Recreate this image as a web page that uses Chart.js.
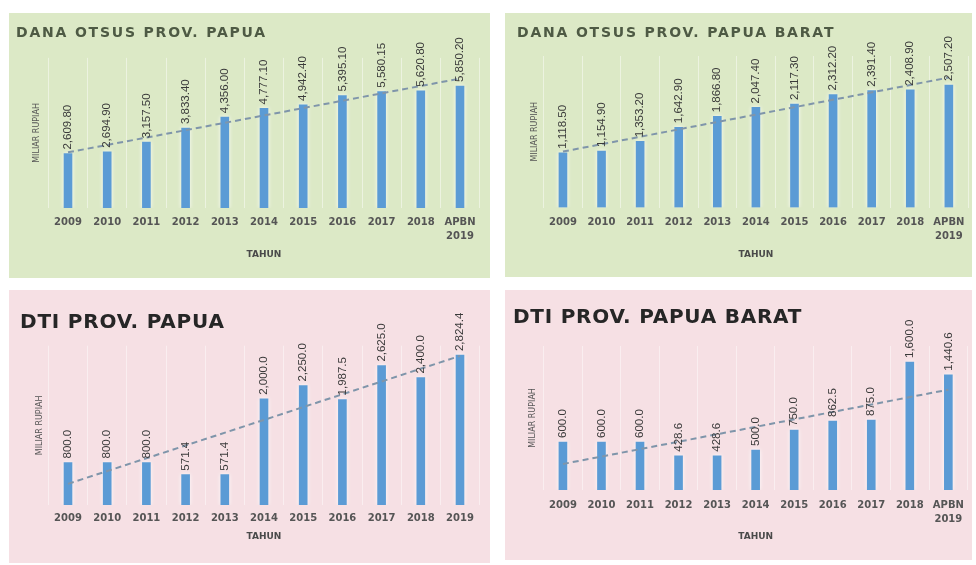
<!DOCTYPE html>
<html>
<head>
<meta charset="utf-8">
<script src="https://cdn.jsdelivr.net/npm/chart.js@4.4.1/dist/chart.umd.min.js"></script>
<style>
body { margin:0; background:#fff; width:976px; height:565px; overflow:hidden; position:relative; font-family:'DejaVu Sans', sans-serif; }
.panel { position:absolute; }
.panel canvas { position:absolute; left:0; top:0; }
.judul { position:absolute; font-weight:bold; white-space:nowrap; line-height:1; }
</style>
</head>
<body>
<div class="panel" style="left:9px;top:13px;width:481px;height:265px;background:#dce9c6">
  <canvas id="otsusPapua" width="481" height="265"></canvas>
  <div class="judul" style="left:7px;top:12px;font-size:14px;letter-spacing:1.8px;color:#4e5a44">DANA OTSUS PROV. PAPUA</div>
</div>
<div class="panel" style="left:505px;top:13px;width:467px;height:264px;background:#dce9c6">
  <canvas id="otsusPapuaBarat" width="467" height="264"></canvas>
  <div class="judul" style="left:12px;top:12px;font-size:14px;letter-spacing:1.8px;color:#4e5a44">DANA OTSUS PROV. PAPUA BARAT</div>
</div>
<div class="panel" style="left:9px;top:290px;width:481px;height:273px;background:#f6e0e4">
  <canvas id="dtiPapua" width="481" height="273"></canvas>
  <div class="judul" style="left:11px;top:21px;font-size:20px;letter-spacing:0.8px;color:#262626">DTI PROV. PAPUA</div>
</div>
<div class="panel" style="left:505px;top:290px;width:467px;height:270px;background:#f6e0e4">
  <canvas id="dtiPapuaBarat" width="467" height="270"></canvas>
  <div class="judul" style="left:8px;top:16px;font-size:20px;letter-spacing:0.75px;color:#262626">DTI PROV. PAPUA BARAT</div>
</div>
<script>
// tahun (sumbu x)
const tahunApbn = ['2009', '2010', '2011', '2012', '2013', '2014', '2015', '2016', '2017', '2018', ['APBN', '2019']];
const tahunDti = ['2009', '2010', '2011', '2012', '2013', '2014', '2015', '2016', '2017', '2018', '2019'];

// nilai (miliar rupiah)
const otsusPapua = [2609.80, 2694.90, 3157.50, 3833.40, 4356.00, 4777.10, 4942.40, 5395.10, 5580.15, 5620.80, 5850.20];
const otsusPapuaBarat = [1118.50, 1154.90, 1353.20, 1642.90, 1866.80, 2047.40, 2117.30, 2312.20, 2391.40, 2408.90, 2507.20];
const dtiPapua = [800.0, 800.0, 800.0, 571.4, 571.4, 2000.0, 2250.0, 1987.5, 2625.0, 2400.0, 2824.4];
const dtiPapuaBarat = [600.0, 600.0, 600.0, 428.6, 428.6, 500.0, 750.0, 862.5, 875.0, 1600.0, 1440.6];

// garis tren: nilai awal dan akhir
const trenOtsusPapua = [2670, 6205];
const trenOtsusPapuaBarat = [1144, 2659];
const trenDtiPapua = [398, 2808];
const trenDtiPapuaBarat = [325, 1254];

const warnaBar = '#5b9bd5';
const warnaTren = '#7f95aa';

// label nilai tegak di atas batang
const labelNilai = {
    id: 'labelNilai',
    beforeDatasetDraw(chart, args) {
        if (args.index === 1) {
            chart.ctx.save();
            chart.ctx.shadowColor = 'rgba(255,255,255,0.9)';
            chart.ctx.shadowBlur = 4;
        }
    },
    afterDatasetDraw(chart, args) {
        if (args.index === 1) chart.ctx.restore();
    },
    afterDatasetsDraw(chart, args, opts) {
        const ctx = chart.ctx;
        const meta = chart.getDatasetMeta(1);
        const data = chart.data.datasets[1].data;
        ctx.save();
        ctx.font = '11.5px "Liberation Sans", sans-serif';
        ctx.fillStyle = '#3a3a3a';
        ctx.textAlign = 'left';
        ctx.textBaseline = 'middle';
        meta.data.forEach((bar, i) => {
            const teks = data[i].toLocaleString('en-US', {minimumFractionDigits: opts.desimal, maximumFractionDigits: opts.desimal});
            ctx.save();
            ctx.translate(bar.x, bar.y - 4);
            ctx.rotate(-Math.PI / 2);
            ctx.fillText(teks, 0, 0);
            ctx.restore();
        });
        ctx.restore();
    }
};

function buatGrafik(id, labels, nilai, tren, desimal, g) {
    const canvas = document.getElementById(id);
    const W = canvas.width, H = canvas.height;
    const akhir = labels.length - 1;
    const dataTren = labels.map((l, i) => i === 0 ? tren[0] : (i === akhir ? tren[1] : null));
    const config = {
        data: {
            labels,
            datasets: [{
                type: 'line',
                label: 'Tren',
                data: dataTren,
                borderColor: warnaTren,
                borderWidth: 2,
                borderDash: [6, 4],
                pointRadius: 0,
                spanGaps: true,
                order: 0
            }, {
                type: 'bar',
                label: 'Nilai',
                data: nilai,
                backgroundColor: warnaBar,
                barThickness: 8,
                order: 1
            }]
        },
        options: {
            responsive: false,
            animation: false,
            devicePixelRatio: 1,
            layout: {
                padding: {top: g.top, right: W - g.right, bottom: H - (g.tahunY + 5.4), left: 0}
            },
            plugins: {
                legend: {display: false},
                tooltip: {enabled: false},
                labelNilai: {desimal}
            },
            scales: {
                x: {
                    offset: true,
                    grid: {display: true, offset: true, color: 'rgba(255,255,255,0.45)', drawTicks: false},
                    border: {display: false},
                    ticks: {
                        padding: g.labelY - g.bottom - 7,
                        autoSkip: false,
                        maxRotation: 0,
                        color: '#555',
                        font: {family: 'DejaVu Sans', size: 10, weight: 'bold', lineHeight: 1.4}
                    },
                    title: {
                        display: true,
                        text: 'TAHUN',
                        color: '#4a4a4a',
                        padding: {top: 0, bottom: 0},
                        font: {family: 'DejaVu Sans', size: 9, weight: 'bold', lineHeight: 1.2}
                    },
                    afterFit: s => { s.height = g.tahunY + 5.4 - g.bottom; }
                },
                y: {
                    min: 0,
                    max: g.max,
                    grid: {display: false},
                    border: {display: false},
                    ticks: {display: false},
                    title: {
                        display: true,
                        text: 'MILIAR RUPIAH',
                        color: '#555',
                        padding: {top: g.yTitleX - 4.8, bottom: 0},
                        font: {family: 'DejaVu Sans', size: 8, lineHeight: 1.2}
                    },
                    afterFit: s => { s.width = g.left; }
                }
            }
        },
        plugins: [labelNilai]
    };
    return new Chart(canvas.getContext('2d'), config);
}

buatGrafik('otsusPapua', tahunApbn, otsusPapua, trenOtsusPapua, 2,
    {left: 39.4, right: 470.6, top: 44.85, bottom: 195, max: 7200, labelY: 209, tahunY: 242, yTitleX: 28});
buatGrafik('otsusPapuaBarat', tahunApbn, otsusPapuaBarat, trenOtsusPapuaBarat, 2,
    {left: 38.65, right: 464.35, top: 43, bottom: 194.5, max: 3100, labelY: 209, tahunY: 242, yTitleX: 30});
buatGrafik('dtiPapua', tahunDti, dtiPapua, trenDtiPapua, 1,
    {left: 39.4, right: 470.6, top: 55.7, bottom: 215, max: 3000, labelY: 228, tahunY: 247, yTitleX: 31});
buatGrafik('dtiPapuaBarat', tahunApbn, dtiPapuaBarat, trenDtiPapuaBarat, 1,
    {left: 38.65, right: 464.35, top: 56, bottom: 200, max: 1800, labelY: 215, tahunY: 247, yTitleX: 28});
</script>
</body>
</html>
